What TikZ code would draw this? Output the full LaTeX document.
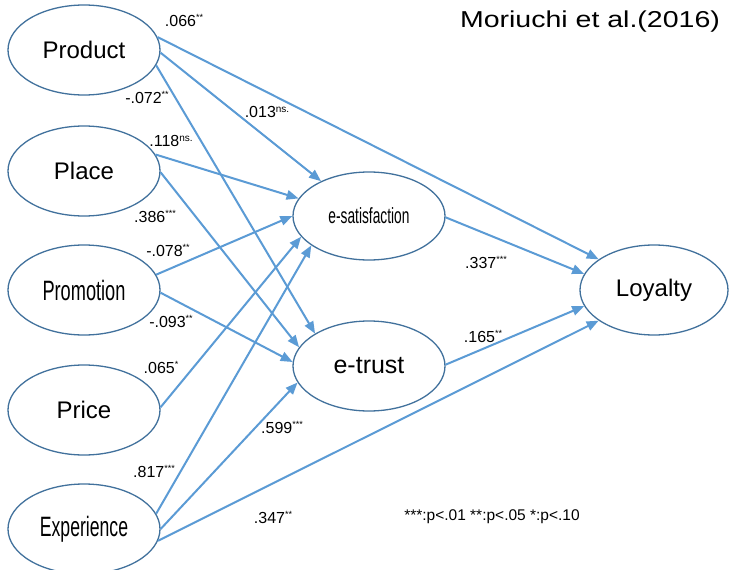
\documentclass[tikz,border=0pt]{standalone}
\usepackage{fontspec}
\usepackage{graphicx}
\setmainfont{Liberation Sans}
\usetikzlibrary{shapes.geometric,arrows.meta}

\definecolor{edgeblue}{RGB}{91,155,213}
\definecolor{rimblue}{RGB}{65,113,156}

% path coefficient with a raised significance mark
\newcommand{\coef}[2]{#1\raisebox{6pt}{\fontsize{9}{9}\selectfont #2}}
\newcommand{\coefns}[1]{#1\raisebox{5.5pt}{\fontsize{10}{10}\selectfont ns.}}

\tikzset{
  construct/.style={ellipse, draw=rimblue, line width=1.3pt, fill=white,
    minimum width=152pt, minimum height=90pt, inner sep=0pt,
    font=\fontsize{24}{24}\selectfont},
  path/.style={draw=edgeblue, line width=2pt,
    -{Triangle[length=12pt,width=9.5pt]}},
  coeflabel/.style={inner sep=0pt, font=\fontsize{16}{16}\selectfont}
}

\begin{document}
\begin{tikzpicture}[x=1pt,y=-1pt]
  \fill[white] (0,0) rectangle (729,570);
  \useasboundingbox (0,0) rectangle (729,570);

  % exogenous constructs
  \node[construct] (prod)  at (84,50)  {Product};
  \node[construct] (place) at (84,171) {Place};
  \node[construct] (promo) at (84,290) {\fontsize{28}{28}\selectfont\scalebox{0.65}[1]{Promotion}};
  \node[construct] (price) at (84,410) {Price};
  \node[construct] (exper) at (84,529) {\fontsize{28}{28}\selectfont\scalebox{0.63}[1]{Experience}};

  % mediators and outcome
  \node[construct, minimum height=88pt] (esat) at (369,216) {\fontsize{22}{22}\selectfont\scalebox{0.625}[1]{e-satisfaction}};
  \node[construct] (etrust) at (369,366) {\fontsize{25}{25}\selectfont e-trust};
  \node[construct, minimum width=148pt] (loyal) at (654,290) {Loyalty};

  % structural paths
  \draw[path] (prod.10)  -- (loyal.151);
  \draw[path] (prod.-2)  -- (esat.144);
  \draw[path] (prod.-12) -- (etrust.149);
  \draw[path] (place.13) -- (esat.166);
  \draw[path] (place.-1) -- (etrust.165);
  \draw[path] (promo.12) -- (esat.180);
  \draw[path] (promo.-2) -- (etrust.177);
  \draw[path] (price.2)  -- (esat.197);
  \draw[path] (exper.12) -- (esat.207);
  \draw[path] (exper.0)  -- (etrust.193);
  \draw[path] (exper.-9) -- (loyal.209);
  \draw[path] (esat.-1)  -- (loyal.167);
  \draw[path] (etrust.1) -- (loyal.193);

  % coefficients
  \node[coeflabel] (c1)  at (184,20)  {\coef{.066}{**}};
  \node[coeflabel] (c2)  at (147,97)  {\coef{-.072}{**}};
  \node[coeflabel] (c3)  at (267,112) {\coefns{.013}};
  \node[coeflabel] (c4)  at (171,141) {\coefns{.118}};
  \node[coeflabel] (c5)  at (155,216) {\coef{.386}{***}};
  \node[coeflabel] (c6)  at (168,250) {\coef{-.078}{**}};
  \node[coeflabel] (c7)  at (171,321) {\coef{-.093}{**}};
  \node[coeflabel] (c8)  at (161,367) {\coef{.065}{*}};
  \node[coeflabel] (c9)  at (154,471) {\coef{.817}{***}};
  \node[coeflabel] (c10) at (282,427) {\coef{.599}{***}};
  \node[coeflabel] (c11) at (273,517) {\coef{.347}{**}};
  \node[coeflabel] (c12) at (486,262) {\coef{.337}{***}};
  \node[coeflabel] (c13) at (483,336) {\coef{.165}{**}};

  % legend and source
  \node[inner sep=0pt, font=\fontsize{15.5}{15.5}\selectfont] (legend) at (492,517) {***:p<.01 **:p<.05 *:p<.10};
  \node[inner sep=0pt, font=\fontsize{23}{23}\selectfont] (source) at (590,22)
    {\scalebox{1.24}[1]{Moriuchi et al.(2016)}};
\end{tikzpicture}
\end{document}
